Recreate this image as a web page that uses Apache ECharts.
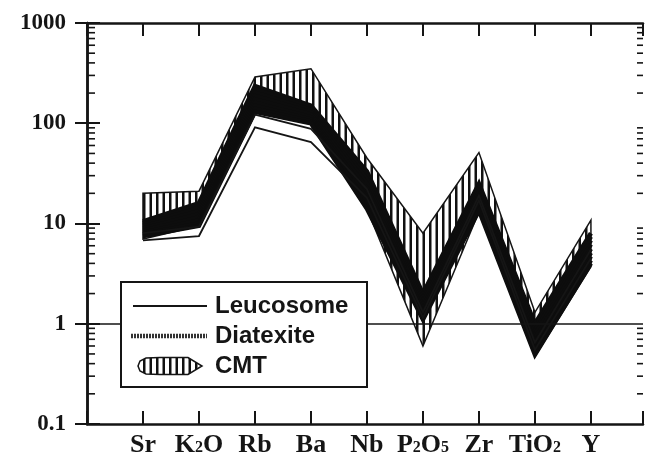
<!DOCTYPE html>
<html>
<head>
<meta charset="utf-8">
<script src="https://cdn.jsdelivr.net/npm/echarts@6/dist/echarts.min.js"></script>
<style>html,body{margin:0;padding:0;background:#fff}#c{width:656px;height:458px}</style>
</head>
<body>
<div id="c"></div>
<script>
// ---- data ----
const categories = ['Sr', 'K2O', 'Rb', 'Ba', 'Nb', 'P2O5', 'Zr', 'TiO2', 'Y'];
const xTickLabels = ['Sr', '{a|K}{s|2}{a|O}', 'Rb', 'Ba', 'Nb', '{a|P}{s|2}{a|O}{s|5}', 'Zr', '{a|TiO}{s|2}', 'Y'];
const yTickLabels = ['0.1', '1', '10', '100', '1000'];
const yTickValues = [0.1, 1, 10, 100, 1000];

const cmtUpper = [20, 21, 290, 350, 45, 8, 51, 1.3, 10.8];
const cmtLower = [7, 9.5, 140, 110, 14, 0.6, 13, 0.47, 3.7];

const diatexite1 = [10.5, 16, 235, 150, 33, 2.0, 25, 1.0, 8];
const diatexite2 = [10.1, 15.2, 218, 143, 30, 1.85, 23.5, 0.92, 7.4];
const diatexite3 = [9.7, 14.3, 202, 136, 27.5, 1.72, 22, 0.85, 6.8];
const diatexite4 = [9.3, 13.3, 187, 129, 25, 1.6, 20.5, 0.78, 6.2];
const diatexite5 = [8.9, 12.4, 173, 122, 22.5, 1.48, 19, 0.71, 5.6];
const diatexite6 = [8.5, 11.5, 160, 115, 20, 1.37, 17.5, 0.65, 5.1];
const diatexite7 = [8.1, 10.7, 149, 109, 18, 1.27, 16, 0.59, 4.7];
const diatexite8 = [7.8, 10.0, 139, 104, 16, 1.18, 14.7, 0.54, 4.3];
const diatexite9 = [7.5, 9.5, 130, 100, 14, 1.1, 13.5, 0.49, 4];

const leucosome1 = [6.8, 7.5, 91, 65, 18, 1.15, 17, 0.55, 4.5];
const leucosome2 = [8, 9.3, 122, 88, 22, 1.3, 19, 0.65, 5.5];

const minorTickValues = [];
[0.1, 1, 10, 100].forEach(d => { for (let k = 2; k <= 9; k++) minorTickValues.push(+(d * k).toPrecision(3)); });

// ---- hatch pattern ----
const pc = document.createElement('canvas');
pc.width = 13; pc.height = 10;
const pctx = pc.getContext('2d');
pctx.fillStyle = '#111';
pctx.fillRect(0, 0, 2.5, 10);
pctx.fillRect(6.5, 0, 2.5, 10);
const hatch = { image: pc, repeat: 'repeat' };

const toXY = arr => arr.map((v, i) => [i + 1, v]);
const INK = '#151515';
const serif = "'Liberation Serif', 'Times New Roman', serif";
const sans = "'Liberation Sans', Arial, sans-serif";

const chart = echarts.init(document.getElementById('c'), null, { renderer: 'canvas' });

const diaList = [diatexite1, diatexite2, diatexite3, diatexite4, diatexite5, diatexite6, diatexite7, diatexite8, diatexite9];
const diaSeries = diaList.map((d, k) => ({
  name: 'Diatexite', type: 'line', data: toXY(d), symbol: 'none', z: 3,
  lineStyle: { color: '#0d0d0d', width: 4.5, join: 'miter' },
  markLine: k === 0 ? {
    silent: true, symbol: 'none', label: { show: false },
    lineStyle: { color: INK, width: 1.6, type: 'solid' },
    data: [{ yAxis: 1 }]
  } : undefined
}));

const leuSeries = [leucosome1, leucosome2].map(d => ({
  name: 'Leucosome', type: 'line', data: toXY(d), symbol: 'none', z: 4,
  lineStyle: { color: INK, width: 1.8, join: 'miter' }
}));

const xAxisBase = {
  type: 'value', min: 0, max: 9.93, interval: 1,
  axisLine: { show: true, lineStyle: { color: INK, width: 2.5 } },
  axisTick: { show: true, inside: true, length: 13, lineStyle: { color: INK, width: 2 } },
  splitLine: { show: false }
};
const yAxisBase = {
  type: 'log', logBase: 10, min: 0.1, max: 1000,
  axisLine: { show: true, lineStyle: { color: INK, width: 2.5 } },
  axisTick: { show: true, inside: true, length: 13, lineStyle: { color: INK, width: 2 } },
  splitLine: { show: false }
};

chart.setOption({
  animation: false,
  backgroundColor: '#fff',
  grid: { left: 87, right: 13, top: 23, bottom: 33, containLabel: false },
  xAxis: [
    Object.assign({}, xAxisBase, {
      position: 'bottom',
      axisLabel: {
        show: true, margin: 8, color: INK,
        fontFamily: serif, fontWeight: 'bold', fontSize: 26,
        formatter: v => {
          const i = Math.round(v);
          if (Math.abs(v - i) > 1e-6 || i < 1 || i > categories.length) return '';
          return xTickLabels[i - 1];
        },
        rich: {
          a: { fontFamily: serif, fontWeight: 'bold', fontSize: 26, color: INK },
          s: { fontFamily: serif, fontWeight: 'bold', fontSize: 16, color: INK, verticalAlign: 'bottom', padding: [0, 0, 2, 0] }
        }
      }
    }),
    Object.assign({}, xAxisBase, { position: 'top', axisLabel: { show: false } })
  ],
  yAxis: [
    Object.assign({}, yAxisBase, {
      position: 'left',
      axisLabel: {
        show: true, margin: 21, color: INK,
        fontFamily: serif, fontWeight: 'bold', fontSize: 23,
        formatter: v => {
          const j = yTickValues.findIndex(t => Math.abs(Math.log10(t) - Math.log10(v)) < 1e-6);
          return j >= 0 ? yTickLabels[j] : '';
        }
      }
    }),
    Object.assign({}, yAxisBase, { position: 'right', axisLabel: { show: false },
      axisTick: { show: true, inside: true, length: 12, lineStyle: { color: INK, width: 2 } } })
  ],
  series: [
    {
      name: 'CMT', type: 'custom', z: 2,
      data: [[1, 1]],
      renderItem: (params, api) => {
        const pts = [];
        for (let i = 0; i < cmtUpper.length; i++) pts.push(api.coord([i + 1, cmtUpper[i]]));
        for (let i = cmtLower.length - 1; i >= 0; i--) pts.push(api.coord([i + 1, cmtLower[i]]));
        return {
          type: 'polygon', shape: { points: pts },
          style: { fill: hatch, stroke: INK, lineWidth: 1.5, lineJoin: 'miter' }
        };
      }
    },
    ...diaSeries,
    ...leuSeries,
    {
      name: 'minorTicks', type: 'custom', z: 5, silent: true,
      data: minorTickValues.map(v => [0, v]),
      renderItem: (params, api) => {
        const cs = params.coordSys;
        const y = api.coord([0, api.value(1)])[1];
        return {
          type: 'group', children: [
            { type: 'line', shape: { x1: cs.x, y1: y, x2: cs.x + 8, y2: y }, style: { stroke: INK, lineWidth: 1.6 } },
            { type: 'line', shape: { x1: cs.x + cs.width - 6, y1: y, x2: cs.x + cs.width, y2: y }, style: { stroke: INK, lineWidth: 1.6 } }
          ]
        };
      }
    }
  ],
  graphic: [
    { type: 'rect', z: 100, shape: { x: 121, y: 282, width: 246, height: 105 },
      style: { fill: '#fff', stroke: INK, lineWidth: 2 } },
    { type: 'line', z: 101, shape: { x1: 133, y1: 306, x2: 207, y2: 306 }, style: { stroke: INK, lineWidth: 1.8 } },
    { type: 'line', z: 101, shape: { x1: 131, y1: 336, x2: 207, y2: 336 }, style: { stroke: '#333', lineWidth: 4.5, lineDash: [2, 1] } },
    { type: 'polygon', z: 101, shape: { points: [[138, 366], [140, 361], [146, 358], [160, 357.5], [188, 357.5], [202, 366], [188, 374.5], [160, 374.5], [146, 374], [140, 371]] },
      style: { fill: hatch, stroke: INK, lineWidth: 1.5 } },
    { type: 'text', z: 101, style: { x: 215, y: 306, text: 'Leucosome', font: "bold 24px " + sans, fill: INK, verticalAlign: 'middle', textVerticalAlign: 'middle' } },
    { type: 'text', z: 101, style: { x: 215, y: 336, text: 'Diatexite', font: "bold 24px " + sans, fill: INK, verticalAlign: 'middle', textVerticalAlign: 'middle' } },
    { type: 'text', z: 101, style: { x: 215, y: 366, text: 'CMT', font: "bold 24px " + sans, fill: INK, verticalAlign: 'middle', textVerticalAlign: 'middle' } }
  ]
});
</script>
</body>
</html>
